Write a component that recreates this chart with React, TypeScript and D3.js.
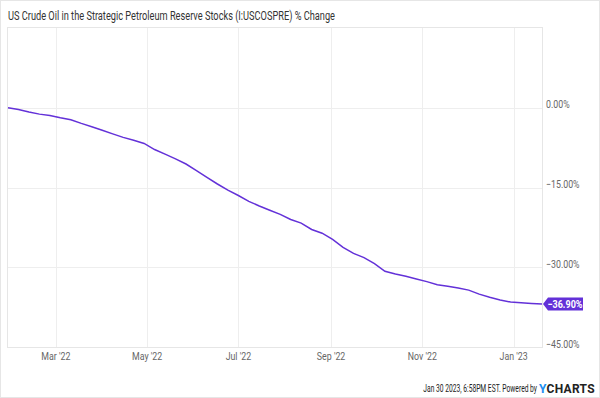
import React from 'react';
import * as d3 from 'd3';

// weekly SPR stock % change since first week shown
const weekDates = [
    '2022-01-28', '2022-02-04', '2022-02-11', '2022-02-18', '2022-02-25',
    '2022-03-04', '2022-03-11', '2022-03-18', '2022-03-25',
    '2022-04-01', '2022-04-08', '2022-04-15', '2022-04-22', '2022-04-29',
    '2022-05-06', '2022-05-13', '2022-05-20', '2022-05-27',
    '2022-06-03', '2022-06-10', '2022-06-17', '2022-06-24',
    '2022-07-01', '2022-07-08', '2022-07-15', '2022-07-22', '2022-07-29',
    '2022-08-05', '2022-08-12', '2022-08-19', '2022-08-26',
    '2022-09-02', '2022-09-09', '2022-09-16', '2022-09-23', '2022-09-30',
    '2022-10-07', '2022-10-14', '2022-10-21', '2022-10-28',
    '2022-11-04', '2022-11-11', '2022-11-18', '2022-11-25',
    '2022-12-02', '2022-12-09', '2022-12-16', '2022-12-23', '2022-12-30',
    '2023-01-06', '2023-01-13', '2023-01-20',
];
const pctChange = [
    0, -0.34, -0.81, -1.2, -1.46,
    -1.88, -2.25, -2.94, -3.56,
    -4.22, -4.91, -5.57, -6.11, -6.71,
    -7.86, -8.72, -9.62, -10.58,
    -11.81, -13.1, -14.34, -15.5,
    -16.5, -17.6, -18.47, -19.27, -20.06,
    -21.02, -21.7, -22.9, -23.6,
    -24.75, -26.25, -27.4, -28.2, -29.3,
    -30.75, -31.25, -31.7, -32.2,
    -32.7, -33.3, -33.56, -33.9,
    -34.3, -35.06, -35.66, -36.15, -36.54,
    -36.66, -36.8, -36.9,
];
const yTicks = [0, -15, -30, -45];
const xTickDates = ['2022-03-01', '2022-05-01', '2022-07-01', '2022-09-01', '2022-11-01', '2023-01-01'];
const xTickLabels = ["Mar '22", "May '22", "Jul '22", "Sep '22", "Nov '22", "Jan '23"];

const title = 'US Crude Oil in the Strategic Petroleum Reserve Stocks (I:USCOSPRE) % Change';
const footer = 'Jan 30 2023, 6:58PM EST. Powered by';

const parse = d3.timeParse('%Y-%m-%d');

export default function App() {
    const width = 600;
    const height = 398;
    const margin = { top: 28, right: 59, bottom: 51, left: 8 };
    const purple = '#6331d8';
    const font = 'Roboto, sans-serif';

    const data = weekDates.map((d, i) => ({ date: parse(d)!, value: pctChange[i] }));

    const x = d3.scaleTime()
        .domain(d3.extent(data, d => d.date) as [Date, Date])
        .range([margin.left, width - margin.right + 1]);
    const y = d3.scaleLinear()
        .domain([-45, 15])
        .range([height - margin.bottom, margin.top]);

    const line = d3.line<{ date: Date; value: number }>()
        .x(d => x(d.date))
        .y(d => y(d.value));

    const x0 = margin.left - 1;
    const x1 = width - margin.right + 1;
    const last = data[data.length - 1];
    const ly = y(last.value);

    return (
        <svg width={width} height={height} style={{ position: 'absolute', left: 0, top: 0, background: '#fff' }}>
            <rect x={0.5} y={0.5} width={width - 1} height={height - 1} fill="#fff" stroke="#e6e6e6" />
            <text x={8} y={20} fontFamily={font} fontSize={12} fill="#333" textLength={327} lengthAdjust="spacingAndGlyphs">{title}</text>

            {/* grid */}
            {yTicks.map(t => (
                <line key={t} x1={x0} x2={x1} y1={Math.round(y(t)) + 0.5} y2={Math.round(y(t)) + 0.5} stroke="#eeeeee" />
            ))}
            {xTickDates.map(t => (
                <line key={t} x1={Math.round(x(parse(t)!)) + 0.5} x2={Math.round(x(parse(t)!)) + 0.5} y1={margin.top - 1} y2={height - margin.bottom} stroke="#eeeeee" />
            ))}
            <rect x={x0 + 0.5} y={margin.top - 0.5} width={x1 - x0} height={height - margin.bottom - margin.top + 1} fill="none" stroke="#e6e6e6" />

            {/* y labels */}
            {yTicks.map(t => (
                <text key={t} transform={`translate(546,${y(t) + 0.5}) scale(0.8,1)`} fontFamily={font} fontSize={11} fill="#666">
                    {d3.format('.2f')(t) + '%'}
                </text>
            ))}
            {/* x labels */}
            {xTickDates.map((t, i) => (
                <text key={t} transform={`translate(${x(parse(t)!)},360) scale(0.8,1)`} textAnchor="middle" fontFamily={font} fontSize={11} fill="#666">
                    {xTickLabels[i]}
                </text>
            ))}

            <path d={line(data)!} fill="none" stroke={purple} strokeWidth={1.5} />

            {/* last value badge */}
            <path d={`M${x1 + 1},${ly} L${x1 + 6},${ly - 6.5} H${x1 + 41} V${ly + 6.5} H${x1 + 6} Z`} fill={purple} />
            <text transform={`translate(${x1 + 23},${ly + 4}) scale(0.82,1)`} textAnchor="middle" fontFamily={font} fontSize={11} fontWeight="bold" fill="#fff">
                {d3.format('.2f')(last.value) + '%'}
            </text>

            {/* footer */}
            <text transform="translate(537,392) scale(0.67,1)" textAnchor="end" fontFamily={font} fontSize={10} fill="#222">{footer}</text>
            <text x={539} y={393} fontFamily={font} fontSize={12} fontWeight="bold" letterSpacing={0.3}>
                <tspan fill="#1b8ef0">Y</tspan><tspan fill="#222">CHARTS</tspan>
            </text>
        </svg>
    );
}
